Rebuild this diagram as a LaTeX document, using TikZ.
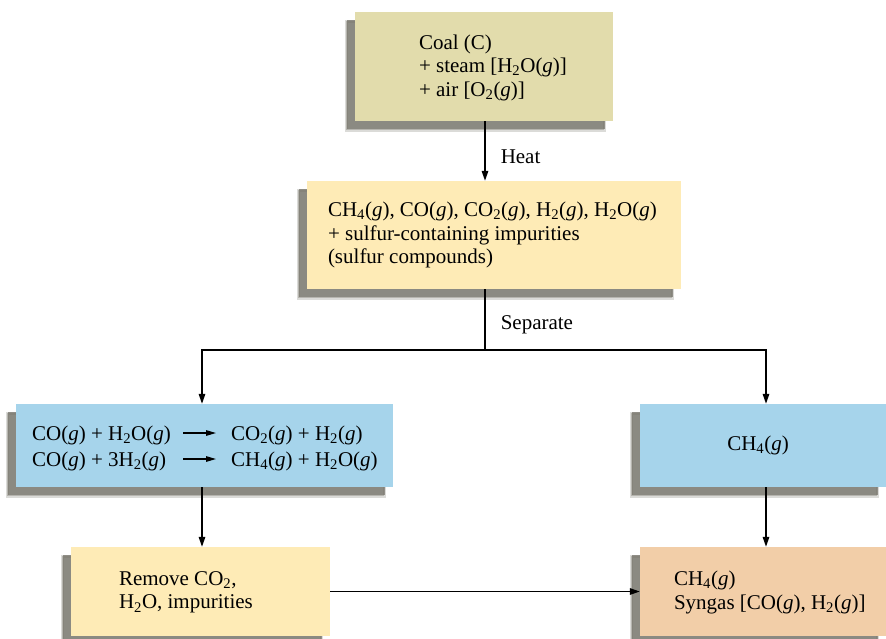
\documentclass[tikz,border=0pt]{standalone}
\usepackage{fontspec}
\setmainfont{Liberation Serif}
\usetikzlibrary{arrows.meta,positioning,shadows,calc}
\definecolor{coalfill}{RGB}{226,220,172}
\definecolor{gasfill}{RGB}{254,235,182}
\definecolor{skyfill}{RGB}{166,212,235}
\definecolor{peachfill}{RGB}{242,206,168}
\definecolor{shadowgray}{RGB}{112,110,100}
\newcommand{\gs}{(\textit{g})}
\newcommand{\chsub}[1]{\textsubscript{#1}}
\tikzset{
  box/.style={rectangle,draw=none,inner sep=0pt,
    drop shadow={shadow xshift=-9pt,shadow yshift=-9pt,fill=shadowgray,opacity=.35,
      draw=shadowgray,line width=3pt,draw opacity=.25},
    drop shadow={shadow xshift=-8pt,shadow yshift=-8pt,fill=shadowgray,opacity=.7}},
  boxtext/.style={anchor=west,align=left,inner sep=0pt},
  eqtext/.style={anchor=base west,inner sep=0pt},
  flow/.style={line width=1.5pt,-{Triangle[length=10pt,width=6.5pt]}},
  eqarrow/.style={line width=1.3pt,-{Triangle[length=10pt,width=5.5pt]}},
  plainline/.style={line width=1.5pt},
  steplabel/.style={right,inner sep=0pt,xshift=15pt}
}
\begin{document}
\begin{tikzpicture}[x=1pt,y=-1pt,font=\fontsize{21}{23.5}\selectfont]
        \useasboundingbox (0,0) rectangle (886,638);
        % boxes
        \node[box,fill=coalfill,minimum width=258pt,minimum height=109pt] (coal) at (484,66.5) {};
        \node[box,fill=gasfill,minimum width=374pt,minimum height=108pt] (mix) at (494,235) {};
        \node[box,fill=skyfill,minimum width=377pt,minimum height=83pt] (shift) at (204.5,445.5) {};
        \node[box,fill=skyfill,minimum width=246pt,minimum height=83pt] (methane) at (763,445.5) {};
        \node[box,fill=gasfill,minimum width=259pt,minimum height=89pt] (remove) at (200.5,591.5) {};
        \node[box,fill=peachfill,minimum width=246pt,minimum height=89pt] (syngas) at (763,591.5) {};
        % texts
        \node[boxtext] (coaltxt) at ([xshift=64pt,yshift=-1pt]coal.west) {Coal (C)\\+ steam [H\chsub{2}O\gs]\\+ air [O\chsub{2}\gs]};
        \node[boxtext] (mixtxt) at ([xshift=21pt]mix.west) {CH\chsub{4}\gs, CO\gs, CO\chsub{2}\gs, H\chsub{2}\gs, H\chsub{2}O\gs\\+ sulfur-containing impurities\\(sulfur compounds)};
        \node[anchor=center,inner sep=0pt] (methanetxt) at ([xshift=-5pt]methane.center) {CH\chsub{4}\gs};
        \node[eqtext] (eqa) at (32,440) {CO\gs{} + H\chsub{2}O\gs};
        \node[eqtext] (eqb) at (231,440) {CO\chsub{2}\gs{} + H\chsub{2}\gs};
        \node[eqtext] (eqc) at (32,466) {CO\gs{} + 3H\chsub{2}\gs};
        \node[eqtext] (eqd) at (231,466) {CH\chsub{4}\gs{} + H\chsub{2}O\gs};
        \node[boxtext] (removetxt) at ([xshift=48pt,yshift=-1pt]remove.west) {Remove CO\chsub{2},\\H\chsub{2}O, impurities};
        \node[boxtext] (syngastxt) at ([xshift=34pt,yshift=-1pt]syngas.west) {CH\chsub{4}\gs\\Syngas [CO\gs, H\chsub{2}\gs]};
        % connectors
        \coordinate (split) at (485,350);
        \draw[flow] (coal.south -| split) -- node[steplabel,pos=.6] {Heat} (mix.north -| split);
        \draw[plainline] (mix.south -| split) -- node[steplabel,pos=.58] {Separate} (split);
        \draw[flow] (split) -| ($(shift.north)+(-2.5,0)$);
        \draw[flow] (split) -| ($(methane.north)+(3,0)$);
        \draw[flow] ($(shift.south)+(-2.5,0)$) -- ($(shift.south |- remove.north)+(-2.5,0)$);
        \draw[flow] ($(methane.south)+(3,0)$) -- ($(methane.south |- syngas.north)+(3,0)$);
        \draw[flow] (remove.east) -- (syngas.west);
        \draw[eqarrow] ([xshift=-48pt,yshift=7pt]eqb.base west) -- ([xshift=-15pt,yshift=7pt]eqb.base west);
        \draw[eqarrow] ([xshift=-48pt,yshift=7pt]eqd.base west) -- ([xshift=-15pt,yshift=7pt]eqd.base west);
\end{tikzpicture}
\end{document}
